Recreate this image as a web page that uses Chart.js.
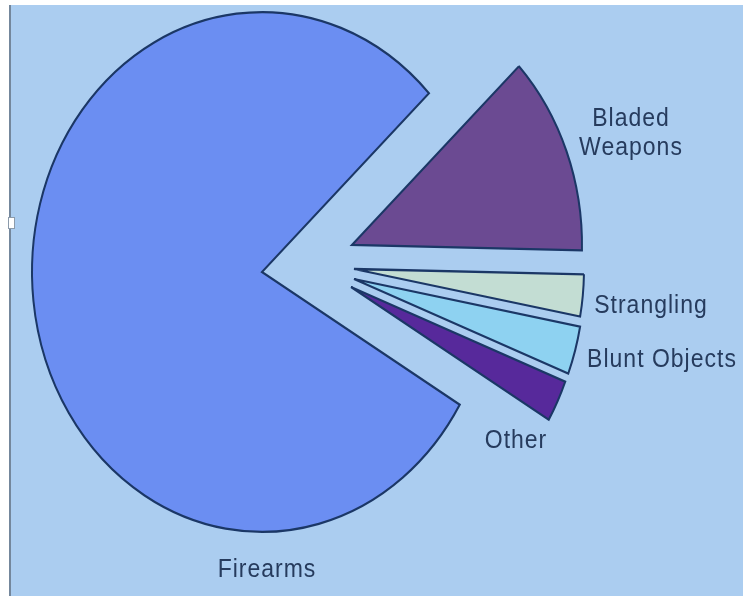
<!DOCTYPE html>
<html>
<head>
<meta charset="utf-8">
<script src="https://cdn.jsdelivr.net/npm/chart.js@4/dist/chart.umd.min.js"></script>
<style>
  html, body { margin: 0; padding: 0; background: #fff; overflow: hidden; }
  #wrap { position: relative; width: 743px; height: 596px; }
  canvas { display: block; }
</style>
</head>
<body>
<div id="wrap"><canvas id="c" width="743" height="596"></canvas></div>
<script>
// Homicide method shares (%)
const categories = ['Firearms', ['Bladed', 'Weapons'], 'Strangling', 'Blunt Objects', 'Other'];
const shares = [79.4, 12.4, 2.6, 3.0, 2.6];

// Styling
const sliceColors = ['#6b8ef2', '#6b4a92', '#c3ddd3', '#8ed2f1', '#57299b'];
const sliceBorder = '#1b3766';
const explodeShift = [
  { x: 0, y: 0 },
  { x: 90, y: -27 },
  { x: 92, y: -3 },
  { x: 92, y: 7 },
  { x: 89, y: 15 }
];
const STRETCH_Y = 1.13;            // pie is drawn as a slightly tall ellipse
const labelAnchors = [
  { x: 267, y: 577 },
  { x: 631, y: 126 },
  { x: 651, y: 313 },
  { x: 662, y: 367 },
  { x: 516, y: 448 }
];
const LINE_GAP = 29;
const TEXT_COLOR = '#263b5d';

// Page backdrop: white frame strips, grey rule on the left and a small handle
const backdrop = {
  id: 'backdrop',
  beforeDraw(chart) {
    const { ctx, width, height } = chart;
    ctx.save();
    ctx.fillStyle = '#ffffff';
    ctx.fillRect(0, 0, width, height);
    ctx.fillStyle = '#abcdf0';
    ctx.fillRect(9, 5, width - 9, height - 5);
    ctx.fillStyle = '#74879c';
    ctx.fillRect(9, 5, 2, height - 5);
    ctx.fillStyle = '#ffffff';
    ctx.fillRect(8, 217, 7, 12);
    ctx.strokeStyle = '#8c9bab';
    ctx.lineWidth = 1;
    ctx.strokeRect(8.5, 217.5, 6, 11);
    ctx.restore();
  }
};

// Pull each slice out by its own shift and stretch the pie vertically
const explodedSlices = {
  id: 'explodedSlices',
  beforeDatasetsDraw(chart) {
    const meta = chart.getDatasetMeta(0);
    meta.data.forEach((arc, i) => {
      if (arc.__exploded) return;
      const baseDraw = arc.draw;
      arc.draw = function (ctx, area) {
        const shift = explodeShift[i] || { x: 0, y: 0 };
        ctx.save();
        ctx.translate(this.x + shift.x, this.y + shift.y);
        ctx.scale(1, STRETCH_Y);
        ctx.translate(-this.x, -this.y);
        baseDraw.call(this, ctx, area);
        ctx.restore();
      };
      arc.__exploded = true;
    });
  }
};

// Category names beside their slices
const sliceLabels = {
  id: 'sliceLabels',
  afterDraw(chart) {
    const ctx = chart.ctx;
    ctx.save();
    ctx.fillStyle = TEXT_COLOR;
    ctx.font = '23px "Liberation Sans", Arial, sans-serif';
    ctx.textAlign = 'center';
    ctx.textBaseline = 'alphabetic';
    try { ctx.letterSpacing = '1px'; } catch (e) {}
    chart.data.labels.forEach((label, i) => {
      const lines = Array.isArray(label) ? label : [label];
      const a = labelAnchors[i];
      lines.forEach((line, j) => {
        ctx.save();
        ctx.translate(a.x, a.y + j * LINE_GAP);
        ctx.scale(1, STRETCH_Y);
        ctx.fillText(line, 0, 0);
        ctx.restore();
      });
    });
    ctx.restore();
  }
};

new Chart(document.getElementById('c'), {
  type: 'pie',
  data: {
    labels: categories,
    datasets: [{
      data: shares,
      backgroundColor: sliceColors,
      borderColor: sliceBorder,
      borderWidth: 2,
      borderJoinStyle: 'miter',
      radius: 230,
      hoverOffset: 0,
      clip: false
    }]
  },
  options: {
    responsive: false,
    animation: false,
    events: [],
    rotation: 120.7,
    layout: { padding: { left: 0, top: 0, right: 219, bottom: 52 } },
    plugins: {
      legend: { display: false },
      tooltip: { enabled: false }
    }
  },
  plugins: [backdrop, explodedSlices, sliceLabels]
});
</script>
</body>
</html>
